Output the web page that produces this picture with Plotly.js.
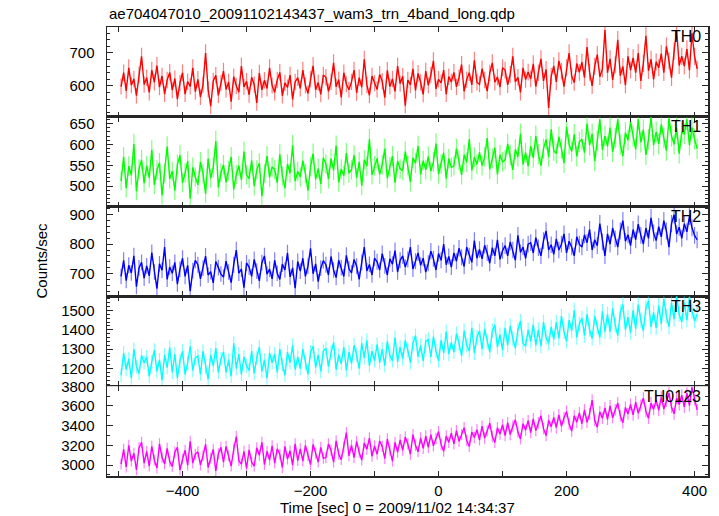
<!DOCTYPE html>
<html><head><meta charset="utf-8">
<script src="https://cdn.plot.ly/plotly-3.0.1.min.js"></script>
<style>html,body{margin:0;padding:0;background:#fff}#chart{width:719px;height:516px}</style>
</head><body><div id="chart"></div>
<script>
const chartTitle = "ae704047010_20091102143437_wam3_trn_4band_long.qdp";
const xTitle = "Time [sec] 0 = 2009/11/02 14:34:37";
const yTitle = "Counts/sec";
const bandNames = ["TH0", "TH1", "TH2", "TH3", "TH0123"];
const tStart = -496, tStep = 4;

const th0 = [
598,640,585,655,602,621,570,633,690,604,
625,580,648,611,662,596,630,575,618,641,
587,622,560,609,640,575,613,598,655,582,
620,566,604,700,590,538,615,632,571,608,
645,589,612,552,628,600,581,660,597,614,
573,626,604,548,639,588,617,592,655,601,
580,618,641,570,609,595,633,559,612,625,
592,648,601,577,620,661,588,610,574,633,
626,583,612,670,597,619,565,640,605,588,
612,648,579,625,596,681,603,571,630,608,
589,635,614,564,647,598,621,583,660,607,
629,540,618,603,652,586,638,611,574,645,
602,633,676,591,620,609,648,575,628,612,
641,597,625,665,583,619,640,603,678,611,
605,652,618,584,639,670,611,627,596,655,
648,603,635,690,612,626,580,655,619,642,
621,667,598,640,682,615,650,533,629,661,
612,676,645,598,655,700,630,610,668,641,
672,625,718,641,600,660,695,628,651,770,
640,682,618,664,740,631,659,602,690,648,
685,640,700,615,668,752,646,681,620,673,
655,698,640,720,676,625,705,770,662,690,
660,712,648,760,690,652];

const th1 = [
512,570,495,548,526,601,488,541,563,507,
549,520,587,503,538,556,478,530,595,517,
536,489,552,574,508,531,560,470,545,522,
503,558,530,482,566,519,544,608,497,532,
551,509,537,570,492,528,549,515,583,527,
518,562,500,539,555,476,530,572,521,546,
540,508,576,524,495,553,531,598,512,535,
522,561,530,489,547,578,516,542,505,568,
553,517,566,538,597,509,541,525,579,531,
539,574,520,558,501,563,548,612,527,549,
566,528,551,590,519,546,572,508,560,541,
537,583,549,510,568,555,596,528,561,539,
571,536,558,602,529,553,580,518,566,545,
548,590,562,527,575,557,612,538,569,552,
581,549,570,615,540,566,592,528,575,558,
563,601,574,539,588,570,625,552,580,548,
596,568,620,577,549,590,612,570,636,585,
578,618,590,555,642,600,583,624,571,606,
612,580,650,598,625,560,608,660,587,620,
595,640,582,615,660,600,572,628,610,655,
620,588,660,605,635,575,612,665,598,630,
601,648,615,585,662,620,600,640,578,630,
625,660,598,640,612,590];

const th2 = [
690,745,676,728,702,760,655,719,738,684,
726,692,771,705,648,733,711,790,680,722,
701,738,664,715,752,690,728,640,710,745,
730,682,718,759,695,706,668,741,720,698,
688,742,705,669,730,780,701,715,652,736,
722,690,748,708,675,737,760,698,715,682,
745,701,680,732,712,770,688,719,650,741,
708,752,690,725,786,699,733,672,718,744,
730,695,758,712,686,745,720,690,762,716,
702,748,725,680,738,790,709,731,695,752,
740,712,768,726,695,750,732,778,705,745,
760,722,748,790,715,742,770,728,752,705,
735,776,750,712,768,745,800,730,758,722,
770,742,786,755,724,790,760,738,812,752,
782,750,796,770,735,788,760,815,748,778,
795,760,808,780,745,830,772,790,752,800,
805,770,822,788,760,812,845,780,798,765,
818,780,800,835,770,810,790,760,825,800,
790,832,805,850,780,815,795,870,808,760,
835,800,855,818,790,845,880,810,832,795,
850,815,868,830,800,855,820,890,838,812,
860,825,880,845,790,870,900,835,858,820,
870,842,895,856,830,815];

const th3 = [
1165,1280,1195,1250,1150,1300,1210,1175,1268,1230,
1260,1160,1235,1295,1185,1245,1140,1270,1205,1310,
1180,1275,1150,1240,1290,1170,1230,1315,1190,1255,
1265,1170,1290,1205,1145,1270,1215,1305,1180,1250,
1285,1180,1245,1160,1330,1200,1275,1170,1260,1215,
1190,1290,1175,1255,1310,1185,1245,1150,1280,1230,
1275,1180,1300,1220,1165,1285,1230,1320,1195,1260,
1200,1300,1225,1170,1285,1315,1205,1270,1185,1290,
1305,1210,1280,1335,1195,1270,1225,1310,1190,1285,
1225,1320,1270,1200,1330,1255,1345,1215,1290,1240,
1325,1230,1300,1215,1340,1265,1240,1360,1235,1310,
1250,1345,1295,1230,1330,1370,1260,1320,1240,1340,
1350,1260,1365,1290,1240,1345,1280,1390,1275,1335,
1285,1380,1330,1265,1395,1320,1290,1410,1280,1360,
1395,1300,1405,1340,1285,1395,1425,1310,1375,1295,
1410,1320,1420,1355,1305,1400,1445,1330,1315,1400,
1340,1425,1320,1400,1315,1440,1360,1330,1415,1350,
1440,1355,1470,1390,1340,1450,1395,1500,1360,1430,
1460,1370,1480,1400,1355,1470,1415,1360,1495,1390,
1480,1390,1510,1425,1370,1490,1530,1400,1465,1385,
1500,1405,1530,1450,1395,1515,1550,1415,1490,1410,
1525,1430,1560,1470,1415,1540,1455,1575,1480,1440,
1540,1450,1570,1495,1445,1480];

const th0123 = [
3010,3160,2980,3200,3040,3120,2950,3175,3230,3020,
3140,2990,3190,3050,2970,3215,3080,3010,3170,3035,
2985,3130,3180,2950,3060,3150,3000,3240,3020,3110,
3135,3000,3095,3210,2975,3070,3160,2940,3115,3180,
3030,3190,3095,2990,3160,3290,3045,3010,3140,2965,
3155,3030,2990,3175,3100,3230,3005,3140,3050,3195,
3020,3165,3110,2975,3190,3060,3145,3000,3215,3045,
3165,3040,3200,3095,3005,3210,3120,3030,3180,3070,
3075,3215,3150,3030,3245,3110,3055,3185,3330,3095,
3200,3075,3240,3130,3050,3225,3160,3275,3090,3195,
3110,3245,3190,3065,3265,3150,3040,3230,3130,3255,
3150,3285,3215,3110,3310,3200,3135,3275,3170,3295,
3180,3310,3195,3270,3340,3210,3140,3295,3230,3325,
3215,3350,3240,3310,3380,3250,3190,3335,3280,3360,
3255,3395,3275,3345,3425,3290,3230,3380,3315,3410,
3300,3430,3310,3395,3460,3335,3265,3420,3355,3450,
3330,3470,3350,3430,3500,3370,3300,3455,3390,3485,
3380,3510,3395,3480,3545,3420,3345,3500,3435,3530,
3420,3560,3435,3520,3660,3455,3385,3540,3475,3580,
3465,3600,3480,3560,3630,3500,3430,3585,3520,3615,
3510,3640,3525,3605,3680,3545,3475,3630,3565,3660,
3555,3690,3570,3650,3730,3590,3520,3680,3615,3710,
3590,3730,3605,3790,3665,3560];

const xTickVals = [-400, -200, 0, 200, 400];
const yTickSteps = [100, 50, 100, 100, 200];
const yMinorSteps = [20, 10, 20, 20, 100];
const yRanges = [[506, 779], [451, 666], [622, 928], [1109, 1572], [2889, 3801]];
const xRange = [-518, 421];

const series = [th0, th1, th2, th3, th0123];
const colors = ["#ff0000", "#00ff00", "#0000ff", "#00ffff", "#ff00ff"];
const errColors = ["rgba(255,0,0,0.5)", "rgba(0,255,0,0.5)", "rgba(0,0,255,0.5)", "rgba(0,255,255,0.5)", "rgba(255,0,255,0.5)"];
const time = th0.map((_, i) => tStart + i * tStep);

const FONT = "Liberation Sans, Arial, sans-serif";
const frameColor = "#262626";
const traces = [];
const layout = {
  width: 719, height: 516,
  paper_bgcolor: "#ffffff", plot_bgcolor: "#ffffff",
  margin: {l: 107, r: 11, t: 27, b: 40, pad: 0},
  showlegend: false,
  font: {family: FONT, size: 15, color: "#000"},
  annotations: []
};

for (let i = 0; i < 5; i++) {
  const sfx = i === 0 ? "" : String(i + 1);
  traces.push({
    type: "scatter", mode: "lines",
    x: time, y: series[i],
    xaxis: "x" + sfx, yaxis: "y" + sfx,
    line: {color: colors[i], width: 1.4},
    error_y: {type: "sqrt", visible: true, color: errColors[i], thickness: 1.2, width: 0},
    hoverinfo: "skip"
  });
  const top = 1 - i * 0.2, bottom = top - 0.2;
  layout["xaxis" + sfx] = {
    domain: [0, 1], anchor: "y" + sfx, range: xRange,
    matches: i === 0 ? undefined : "x",
    tickvals: xTickVals, ticks: "inside", ticklen: 5, tickwidth: 1, tickcolor: frameColor,
    minor: {dtick: 100, tick0: 0, ticks: "inside", ticklen: 5, tickcolor: frameColor, showgrid: false},
    showticklabels: i === 4, tickfont: {family: FONT, size: 15, color: "#000"},
    ticklabelstandoff: 0,
    showline: true, mirror: "ticks", linecolor: frameColor, linewidth: 1.5,
    showgrid: false, zeroline: false
  };
  layout["yaxis" + sfx] = {
    domain: [bottom, top], anchor: "x" + sfx, range: yRanges[i],
    dtick: yTickSteps[i], tick0: 0, ticks: "inside", ticklen: 6, tickwidth: 1, tickcolor: frameColor,
    minor: {dtick: yMinorSteps[i], tick0: 0, ticks: "inside", ticklen: 3, tickcolor: frameColor, showgrid: false},
    tickfont: {family: FONT, size: 15, color: "#000"},
    ticklabelstandoff: 8,
    showline: true, mirror: "ticks", linecolor: frameColor, linewidth: 1.5,
    showgrid: false, zeroline: false
  };
  layout.annotations.push({
    text: bandNames[i], xref: "paper", yref: "paper",
    x: 0.992, y: top - 0.022, xanchor: "right", yanchor: "middle",
    showarrow: false, font: {family: FONT, size: 16, color: "#000"}
  });
}

layout.annotations.push({
  text: chartTitle, xref: "paper", yref: "paper", x: 0, y: 1.0, xanchor: "left", yanchor: "bottom",
  yshift: 3, showarrow: false, font: {family: FONT, size: 15, color: "#000"}
});
layout.annotations.push({
  text: xTitle, xref: "paper", yref: "paper", x: 0.483, y: 0, xanchor: "center", yanchor: "top",
  yshift: -21, showarrow: false, font: {family: FONT, size: 15, color: "#000"}
});
layout.annotations.push({
  text: yTitle, xref: "paper", yref: "paper", x: 0, y: 0.48, xanchor: "center", yanchor: "middle",
  xshift: -66, textangle: -90, showarrow: false, font: {family: FONT, size: 15, color: "#000"}
});

Plotly.newPlot("chart", traces, layout, {displayModeBar: false, staticPlot: true});
</script>
</body></html>
